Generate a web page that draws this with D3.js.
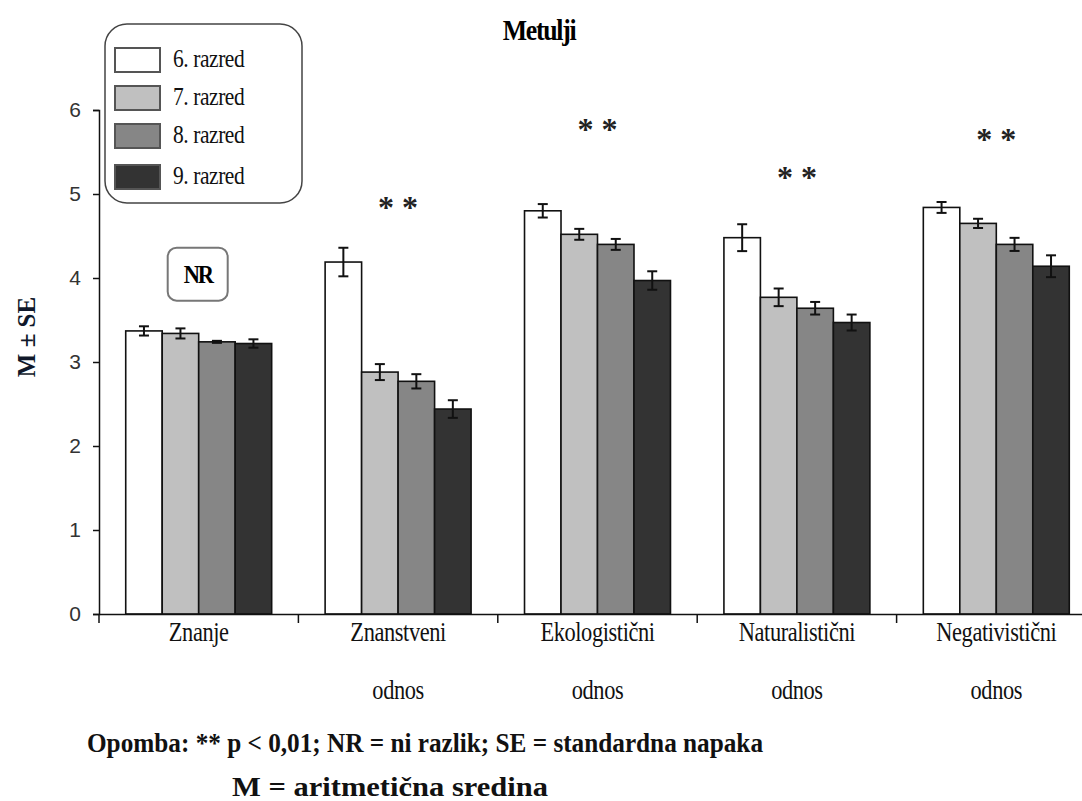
<!DOCTYPE html>
<html>
<head>
<meta charset="utf-8">
<script src="https://cdn.jsdelivr.net/npm/d3@7/dist/d3.min.js"></script>
<style>
  html, body { margin: 0; padding: 0; background: #fff; }
  svg { display: block; }
</style>
</head>
<body>
<svg id="chart" width="1082" height="801"></svg>
<script>
// Category labels (each entry is the list of lines under the tick)
const categories = ["Znanje", "Znanstveni odnos", "Ekologistični odnos", "Naturalistični odnos", "Negativistični odnos"];
const categoryLines = [["Znanje"], ["Znanstveni", "odnos"], ["Ekologistični", "odnos"], ["Naturalistični", "odnos"], ["Negativistični", "odnos"]];

// Grades (series)
const grades = ["6. razred", "7. razred", "8. razred", "9. razred"];
const gradeColors = ["#ffffff", "#c0c0c0", "#868686", "#333333"];

// Means per grade, one value per category
const mean6 = [3.37, 4.19, 4.80, 4.48, 4.84];
const mean7 = [3.34, 2.88, 4.52, 3.77, 4.65];
const mean8 = [3.24, 2.77, 4.40, 3.64, 4.40];
const mean9 = [3.22, 2.44, 3.97, 3.47, 4.14];

// Standard errors per grade
const se6 = [0.055, 0.17, 0.08, 0.16, 0.065];
const se7 = [0.06, 0.095, 0.065, 0.105, 0.055];
const se8 = [0.012, 0.085, 0.065, 0.075, 0.078];
const se9 = [0.05, 0.105, 0.11, 0.095, 0.13];

// Significance marks per category
const significance = ["NR", "* *", "* *", "* *", "* *"];

// Y axis ticks
const yTicks = [0, 1, 2, 3, 4, 5, 6];

const means = [mean6, mean7, mean8, mean9];
const errors = [se6, se7, se8, se9];

const serif = "'Liberation Serif', 'Times New Roman', serif";
const svg = d3.select("#chart");

const x0 = d3.scaleBand().domain(categories).range([99, 1096]).padding(0);
const groupW = x0.bandwidth() * 0.732;
const x1 = d3.scaleBand().domain(grades).range([0, groupW]).padding(0);
const y = d3.scaleLinear().domain([0, 6]).range([614, 110]);

// Title
svg.append("text")
  .attr("transform", "translate(539,40) scale(0.86,1)")
  .attr("text-anchor", "middle")
  .style("font-family", serif)
  .style("font-weight", "bold")
  .style("font-size", "30px")
  .style("letter-spacing", "-1.5px")
  .text("Metulji");

// Bars
const groups = svg.append("g").selectAll("g")
  .data(categories)
  .join("g")
  .attr("transform", d => `translate(${x0(d) + (x0.bandwidth() - groupW) / 2},0)`);

const rows = (d, i) => grades.map((g, k) => ({ g, k, v: means[k][i], e: errors[k][i] }));

groups.selectAll("rect")
  .data(rows)
  .join("rect")
  .attr("x", d => x1(d.g))
  .attr("y", d => y(d.v))
  .attr("width", x1.bandwidth())
  .attr("height", d => y(0) - y(d.v))
  .attr("fill", d => gradeColors[d.k])
  .attr("stroke", "#111")
  .attr("stroke-width", 1.6);

// Error bars
const eb = groups.selectAll("g.err")
  .data(rows)
  .join("g")
  .attr("class", "err")
  .attr("transform", d => `translate(${x1(d.g) + x1.bandwidth() / 2},0)`);
eb.append("line")
  .attr("x1", 0).attr("x2", 0)
  .attr("y1", d => y(d.v + d.e)).attr("y2", d => y(d.v - d.e))
  .attr("stroke", "#111").attr("stroke-width", 2);
eb.append("line")
  .attr("x1", -5).attr("x2", 5)
  .attr("y1", d => y(d.v + d.e)).attr("y2", d => y(d.v + d.e))
  .attr("stroke", "#111").attr("stroke-width", 2);
eb.append("line")
  .attr("x1", -5).attr("x2", 5)
  .attr("y1", d => y(d.v - d.e)).attr("y2", d => y(d.v - d.e))
  .attr("stroke", "#111").attr("stroke-width", 2);

// Y axis
const yAxis = svg.append("g")
  .attr("transform", "translate(99,0)")
  .call(d3.axisLeft(y).tickValues(yTicks).tickFormat(d3.format("d")).tickSizeOuter(0).tickSize(6).tickPadding(12));
yAxis.select(".domain").attr("stroke", "#111").attr("stroke-width", 1.5);
yAxis.selectAll(".tick line").attr("stroke", "#111").attr("stroke-width", 1.5);
yAxis.selectAll(".tick text")
  .style("font-family", "'Liberation Sans', Arial, sans-serif")
  .style("font-size", "21px")
  .attr("fill", "#333");

// X axis
const xAxis = svg.append("g")
  .attr("transform", "translate(0,614)")
  .call(d3.axisBottom(x0).tickSize(0).tickFormat(""));
xAxis.select(".domain").attr("stroke", "#111").attr("stroke-width", 1.5);
xAxis.selectAll(".tick").remove();
// Category separators
const sepTicks = categories.map(c => x0(c)).concat([x0(categories[categories.length - 1]) + x0.bandwidth()]);
xAxis.selectAll("line.sep")
  .data(sepTicks)
  .join("line")
  .attr("class", "sep")
  .attr("x1", d => d).attr("x2", d => d)
  .attr("y1", 0).attr("y2", 9)
  .attr("stroke", "#111").attr("stroke-width", 1.5);

// Category labels
const catLab = svg.append("g").selectAll("g")
  .data(categories)
  .join("g")
  .attr("transform", d => `translate(${x0(d) + x0.bandwidth() / 2},0)`);
catLab.selectAll("text")
  .data((d, i) => categoryLines[i].map((t, j) => ({ t, j })))
  .join("text")
  .attr("transform", d => `translate(0,${641 + d.j * 58}) scale(0.8,1)`)
  .attr("text-anchor", "middle")
  .style("font-family", serif)
  .style("font-size", "28px")
  .style("letter-spacing", "-0.5px")
  .attr("fill", "#111")
  .text(d => d.t);

// Significance marks above each group
const markLevel = [4.04, 4.89, 5.82, 5.25, 5.70];
categories.forEach((c, i) => {
  const cx = x0(c) + x0.bandwidth() / 2;
  if (significance[i] === "NR") {
    const g = svg.append("g");
    g.append("rect")
      .attr("x", cx - 31).attr("y", y(markLevel[i]) - 27)
      .attr("width", 60).attr("height", 53)
      .attr("rx", 9)
      .attr("fill", "#fff").attr("stroke", "#777").attr("stroke-width", 2);
    g.append("text")
      .attr("transform", `translate(${cx - 1},${y(markLevel[i]) + 8}) scale(0.9,1)`)
      .attr("text-anchor", "middle")
      .style("font-family", serif)
      .style("font-weight", "bold")
      .style("font-size", "25px")
      .style("letter-spacing", "-2.5px")
      .text("NR");
  } else {
    svg.append("text")
      .attr("x", cx).attr("y", y(markLevel[i]) + 15)
      .attr("text-anchor", "middle")
      .style("font-family", serif)
      .style("font-weight", "bold")
      .style("font-size", "32px")
      .attr("fill", "#222")
      .text(significance[i]);
  }
});

// Y axis title
svg.append("text")
  .attr("transform", "translate(35,337) rotate(-90)")
  .attr("text-anchor", "middle")
  .style("font-family", serif)
  .style("font-weight", "bold")
  .style("font-size", "25px")
  .attr("fill", "#10182a")
  .text("M  \u00b1 SE");

// Legend
const legend = svg.append("g");
legend.append("rect")
  .attr("x", 105).attr("y", 24).attr("width", 197).attr("height", 179)
  .attr("rx", 22)
  .attr("fill", "#fff").attr("stroke", "#444").attr("stroke-width", 1.5);
const legendRows = [60, 98, 136, 177];
grades.forEach((g, k) => {
  legend.append("rect")
    .attr("x", 115).attr("y", legendRows[k] - 12)
    .attr("width", 45).attr("height", 24)
    .attr("fill", gradeColors[k]).attr("stroke", "#555").attr("stroke-width", 2);
  legend.append("text")
    .attr("transform", `translate(173,${legendRows[k] + 7}) scale(0.86,1)`)
    .style("font-family", serif)
    .style("font-size", "25px")
    .style("letter-spacing", "-0.5px")
    .attr("fill", "#111")
    .text(g);
});

// Footnote
const noteStyle = sel => sel
  .style("font-family", serif)
  .style("font-weight", "bold")
  .style("font-size", "27px")
  .attr("fill", "#111");
svg.append("text")
  .attr("x", 87).attr("y", 752)
  .attr("textLength", 676).attr("lengthAdjust", "spacingAndGlyphs")
  .call(noteStyle)
  .text("Opomba: ** p < 0,01; NR = ni razlik; SE = standardna napaka");
svg.append("text")
  .attr("x", 232).attr("y", 796)
  .attr("textLength", 316).attr("lengthAdjust", "spacingAndGlyphs")
  .call(noteStyle)
  .text("M = aritmetična sredina");
</script>
</body>
</html>
